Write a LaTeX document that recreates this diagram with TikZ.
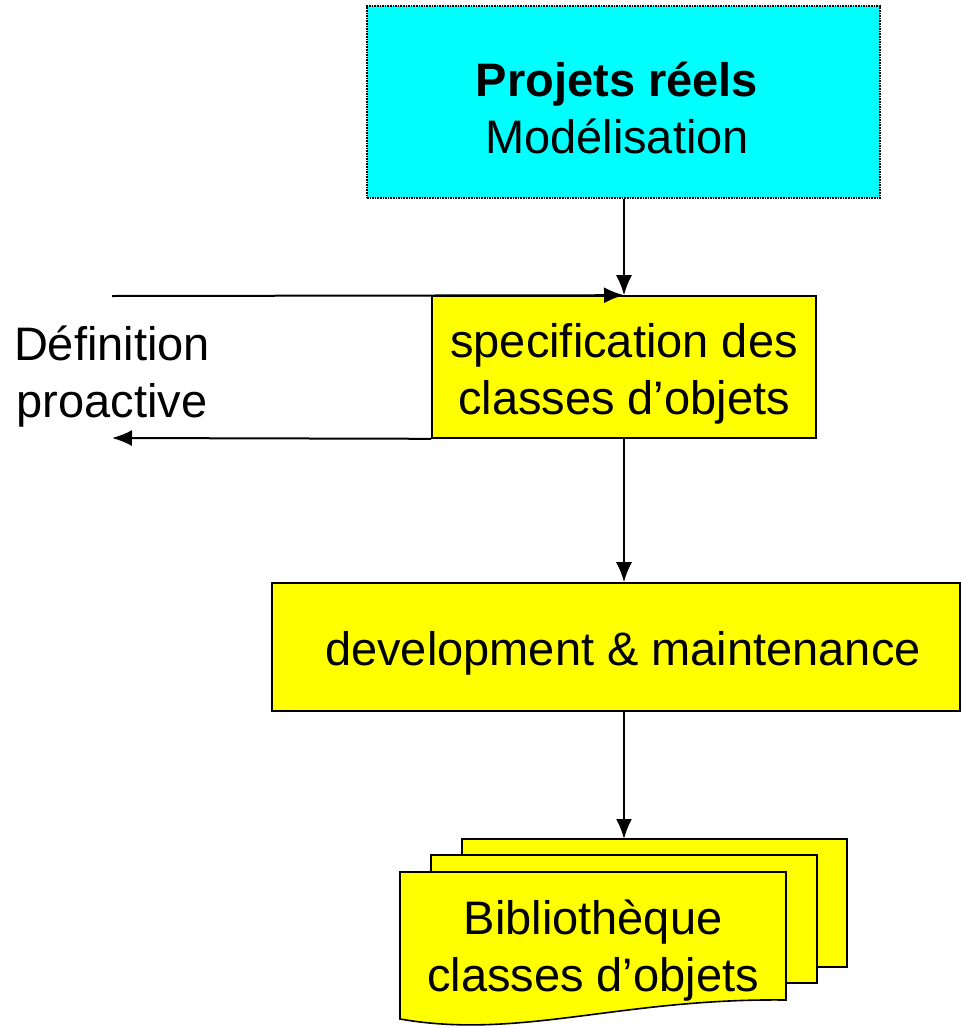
\documentclass[tikz,border=0pt]{standalone}
\usepackage{fontspec}
\setmainfont{Liberation Sans}
\usetikzlibrary{arrows.meta}
\definecolor{boxcyan}{RGB}{0,255,255}
\definecolor{boxyellow}{RGB}{255,255,0}
\begin{document}
\begin{tikzpicture}[x=1pt,y=-1pt,
  every node/.style={font=\fontsize{47}{57}\selectfont, align=center},
  box/.style={draw=black, line width=1.6pt, fill=boxyellow, inner sep=0pt},
  cyanbox/.style={draw=black, densely dotted, line width=1.6pt, fill=boxcyan, inner sep=0pt},
  page/.style={draw=black, line width=1.6pt, fill=boxyellow},
  arr/.style={line width=2pt, -{Latex[length=20pt,width=16pt]}}]
\useasboundingbox (0,0) rectangle (961,1028);

\node[cyanbox, minimum width=513pt, minimum height=192pt] (top) at (623.5,102) {};
\node (toptxt) at (617,108) {\textbf{Projets réels}\\ Modélisation};
\node[box, minimum width=384pt, minimum height=142pt] (spec) at (624,367) {};
\node (spectxt) at (624,374) {specification des\\classes d’objets};
\node[box, minimum width=688pt, minimum height=128pt] (dev) at (616,647) {};
\node (devtxt) at (623,653) {development \& maintenance};
\node (def) at (112,377) {Définition\\proactive};

% document stack
\draw[page] (462,839) rectangle (847,967);
\draw[page] (431,855) rectangle (817,983);
\draw[page] (400,872) -- (786,872) -- (786,1000) .. controls (620,998) and (520,1040) .. (400,1019) -- cycle;
\node (lib) at (593,951) {Bibliothèque\\classes d’objets};
\coordinate (libtop) at (624,839);
\coordinate (inL) at (112,296);
\coordinate (outL) at (112,438);

\draw[arr] (top.south -| spec.north) -- (spec.north);
\draw[arr] (inL) -- (spec.north);
\draw[arr] (spec.south west) -- (outL);
\draw[arr] (spec.south) -- (dev.north -| spec.south);
\draw[arr] (dev.south -| spec.south) -- (libtop);
\end{tikzpicture}
\end{document}
